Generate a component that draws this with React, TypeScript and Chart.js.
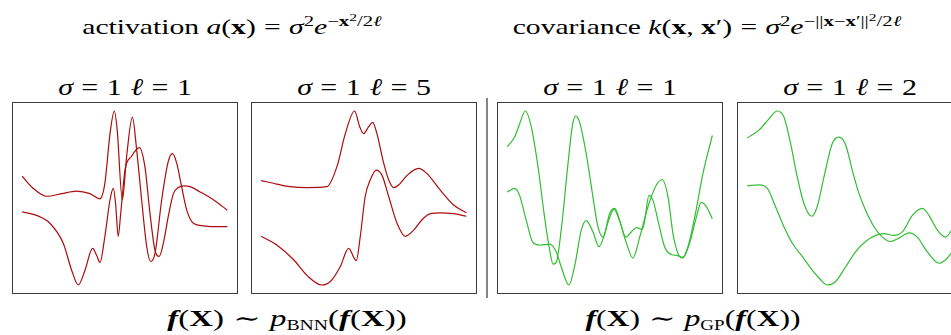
import React, { useEffect, useRef } from "react";
import { Chart, registerables } from "chart.js";

Chart.register(...registerables);

// Sampled functions: [x, f(x)] pairs, x in [0, 10], f normalised to about [-1, 1]
const bnnL1A: [number, number][] = [
  [0, 0.25], [0.54, 0.11], [1.19, 0.02], [1.92, 0.05], [2.65, 0.08], [3.3, 0.05], [3.79, -0.01],
  [4.03, 0.17], [4.28, 0.74], [4.49, 1.0], [4.63, 0.78], [4.88, -0.02], [5.09, 0.48], [5.37, 0.93],
  [5.58, 0.55], [5.82, -0.02], [6.07, -0.56], [6.26, -0.73], [6.47, -0.64], [6.8, -0.02],
  [7.12, 0.42], [7.33, 0.51], [7.53, 0.4], [7.77, 0.13], [8.02, -0.14], [8.34, -0.29],
  [8.83, -0.32], [9.48, -0.33], [10, -0.33],
];
const bnnL1B: [number, number][] = [
  [0, -0.16], [0.7, -0.2], [1.35, -0.29], [2.0, -0.52], [2.41, -0.83], [2.73, -1.0], [3.06, -0.83],
  [3.43, -0.58], [3.63, -0.66], [3.79, -0.74], [4.03, -0.44], [4.28, -0.02], [4.44, 0.11],
  [4.55, -0.06], [4.68, -0.44], [4.8, -0.18], [5.01, 0.32], [5.33, 0.48], [5.71, 0.58],
  [5.98, 0.36], [6.23, -0.18], [6.47, -0.6], [6.68, -0.67], [6.88, -0.52], [7.12, -0.21],
  [7.37, 0.05], [7.61, 0.12], [7.85, 0.14], [8.18, 0.13], [8.67, 0.07], [9.32, -0.02], [10, -0.14],
];
const bnnL5A: [number, number][] = [
  [0, 0.2], [0.76, 0.16], [1.41, 0.13], [2.23, 0.12], [3.2, 0.13], [3.69, 0.36], [4.1, 0.74],
  [4.55, 1.0], [4.8, 0.82], [4.99, 0.74], [5.24, 0.82], [5.43, 0.87], [5.64, 0.74], [5.97, 0.4],
  [6.21, 0.21], [6.46, 0.12], [6.7, 0.15], [7.11, 0.26], [7.67, 0.34], [8.08, 0.28], [8.73, 0.09],
  [9.38, -0.08], [10, -0.17],
];
const bnnL5B: [number, number][] = [
  [0, -0.44], [0.76, -0.54], [1.58, -0.71], [2.23, -0.89], [2.96, -1.0], [3.37, -0.96],
  [3.85, -0.79], [4.26, -0.58], [4.63, -0.72], [4.83, -0.44], [5.07, 0.02], [5.32, 0.21],
  [5.61, 0.32], [5.89, 0.26], [6.21, 0.02], [6.62, -0.29], [7.02, -0.44], [7.43, -0.37],
  [7.84, -0.25], [8.24, -0.18], [8.73, -0.17], [9.38, -0.18], [10, -0.21],
];
const gpL1A: [number, number][] = [
  [0, 0.59], [0.36, 0.7], [0.6, 0.85], [0.88, 1.0], [1.17, 0.82], [1.5, 0.36], [1.82, -0.22],
  [2.07, -0.6], [2.23, -0.76], [2.39, -0.74], [2.63, -0.37], [2.96, 0.39], [3.17, 0.82],
  [3.33, 0.94], [3.53, 0.87], [3.85, 0.51], [4.18, 0.01], [4.42, -0.33], [4.67, -0.45],
  [4.91, -0.28], [5.2, -0.13], [5.48, -0.26], [5.77, -0.45], [6.05, -0.39], [6.29, -0.34],
  [6.59, -0.36], [6.7, -0.26], [6.91, 0.03], [7.11, -0.03], [7.35, -0.26], [7.67, -0.56],
  [8.0, -0.65], [8.24, -0.66], [8.57, -0.68], [8.89, -0.52], [9.22, -0.22], [9.46, -0.05],
  [9.71, -0.1], [10, -0.24],
];
const gpL1B: [number, number][] = [
  [0, 0.07], [0.36, 0.11], [0.6, 0.03], [0.93, -0.26], [1.25, -0.51], [1.58, -0.54], [2.07, -0.53],
  [2.39, -0.62], [2.63, -0.79], [3.01, -1.0], [3.28, -0.79], [3.61, -0.37], [3.85, -0.26],
  [4.18, -0.39], [4.47, -0.56], [4.75, -0.41], [4.99, -0.18], [5.24, -0.12], [5.48, -0.26],
  [5.8, -0.51], [6.13, -0.69], [6.46, -0.45], [6.86, -0.1], [7.27, 0.15], [7.56, 0.21],
  [7.84, 0.01], [8.08, -0.41], [8.33, -0.64], [8.54, -0.69], [8.81, -0.56], [9.14, -0.22],
  [9.54, 0.28], [10, 0.72],
];
const gpL2A: [number, number][] = [
  [0, 0.69], [0.57, 0.78], [1.06, 0.91], [1.46, 1.0], [1.79, 0.93], [2.11, 0.63], [2.44, 0.24],
  [2.76, -0.06], [3.14, -0.21], [3.41, -0.1], [3.74, 0.24], [4.15, 0.63], [4.47, 0.7],
  [4.8, 0.61], [5.12, 0.32], [5.45, 0.05], [5.77, -0.14], [6.18, -0.33], [6.59, -0.45],
  [6.99, -0.5], [7.4, -0.46], [7.89, -0.4], [8.29, -0.45], [8.78, -0.62], [9.35, -0.75],
  [9.67, -0.71], [10, -0.62],
];
const gpL2B: [number, number][] = [
  [0, 0.14], [0.57, 0.15], [0.98, 0.11], [1.38, -0.1], [1.79, -0.33], [2.2, -0.52], [2.68, -0.67],
  [3.17, -0.83], [3.58, -0.94], [3.9, -1.0], [4.31, -0.96], [4.8, -0.79], [5.28, -0.62],
  [5.77, -0.5], [6.26, -0.43], [6.67, -0.41], [7.15, -0.43], [7.56, -0.39], [8.05, -0.2],
  [8.54, -0.12], [8.86, -0.2], [9.27, -0.37], [9.67, -0.45], [10, -0.36],
];

const sigmaValues = ["1", "1", "1", "1"];
const ellValues = ["1", "5", "1", "2"];

const BNN_COLOR = "#ac0c0c";
const GP_COLOR = "#33bd33";
const SERIF = '"Liberation Serif", "DejaVu Serif", serif';

type Series = [number, number][];

function Panel({ left, series, color }: { left: number; series: Series[]; color: string }) {
  const ref = useRef<HTMLCanvasElement | null>(null);
  useEffect(() => {
    if (!ref.current) return;
    const chart = new Chart(ref.current, {
      type: "line",
      data: {
        datasets: series.map((s) => ({
          data: s.map(([x, y]) => ({ x, y })),
          borderColor: color,
          borderWidth: 1.2,
          pointRadius: 0,
          fill: false,
          cubicInterpolationMode: "monotone" as const,
        })),
      },
      options: {
        animation: false,
        responsive: false,
        devicePixelRatio: 1,
        layout: { padding: 0 },
        plugins: { legend: { display: false }, tooltip: { enabled: false }, title: { display: false } },
        scales: {
          x: { type: "linear", min: -0.45, max: 10.47, display: false },
          y: { type: "linear", min: -1.092, max: 1.092, display: false },
        },
      },
    });
    return () => chart.destroy();
  }, []);
  return (
    <div
      style={{
        position: "absolute",
        left,
        top: 102,
        width: 226,
        height: 192,
        boxSizing: "border-box",
        border: "1px solid #3a3a3a",
        background: "#fff",
      }}
    >
      <canvas ref={ref} width={224} height={190} style={{ display: "block", width: 224, height: 190 }} />
    </div>
  );
}

function Text({
  center,
  top,
  size,
  sx,
  children,
}: {
  center: number;
  top: number;
  size: number;
  sx: number;
  children: React.ReactNode;
}) {
  return (
    <div
      style={{
        position: "absolute",
        left: center - 300,
        width: 600,
        top,
        textAlign: "center",
        fontFamily: SERIF,
        fontSize: size,
        lineHeight: 1,
        whiteSpace: "nowrap",
        color: "#000",
        transform: `scaleX(${sx})`,
        transformOrigin: "center top",
      }}
    >
      {children}
    </div>
  );
}

const Sup = ({ children, scale = 0.7, rise = 0.55 }: { children: React.ReactNode; scale?: number; rise?: number }) => (
  <span style={{ fontSize: `${scale}em`, position: "relative", top: `-${rise}em` }}>{children}</span>
);
const Sub = ({ children }: { children: React.ReactNode }) => (
  <span style={{ fontSize: "0.6em", position: "relative", top: "0.3em" }}>{children}</span>
);
const Rel = ({ children, m = 0.28 }: { children: React.ReactNode; m?: number }) => (
  <span style={{ margin: `0 ${m}em` }}>{children}</span>
);

const panelLefts = [12, 251, 497, 737];

export default function App() {
  return (
    <div
      style={{
        position: "fixed",
        left: 0,
        top: 0,
        width: 951,
        height: 335,
        overflow: "hidden",
        background: "#fff",
      }}
    >
      <Text center={232} top={17} size={21} sx={1.41}>
        activation <i>a</i>(<b>x</b>)<Rel>=</Rel><i>σ</i>
        <Sup>2</Sup>
        <i>e</i>
        <Sup>
          −<b>x</b>
          <Sup scale={0.75} rise={0.45}>2</Sup>/2<i>ℓ</i>
        </Sup>
      </Text>
      <Text center={707} top={17} size={21} sx={1.41}>
        covariance <i>k</i>(<b>x</b>, <b>x</b>′)<Rel>=</Rel><i>σ</i>
        <Sup>2</Sup>
        <i>e</i>
        <Sup>
          −||<b>x</b>−<b>x</b>′||
          <Sup scale={0.75} rise={0.45}>2</Sup>/2<i>ℓ</i>
        </Sup>
      </Text>

      {panelLefts.map((l, i) => (
        <Text key={i} center={l + 113} top={75} size={24} sx={1.25}>
          <i>σ</i>
          <Rel>=</Rel>
          {sigmaValues[i]}
          <span style={{ marginLeft: "0.3em" }} />
          <i>ℓ</i>
          <Rel>=</Rel>
          {ellValues[i]}
        </Text>
      ))}

      <Panel left={panelLefts[0]} series={[bnnL1A, bnnL1B]} color={BNN_COLOR} />
      <Panel left={panelLefts[1]} series={[bnnL5A, bnnL5B]} color={BNN_COLOR} />
      <Panel left={panelLefts[2]} series={[gpL1A, gpL1B]} color={GP_COLOR} />
      <Panel left={panelLefts[3]} series={[gpL2A, gpL2B]} color={GP_COLOR} />

      <div style={{ position: "absolute", left: 486, top: 98, width: 2, height: 200, background: "#858585" }} />

      <Text center={287} top={307} size={23} sx={1.43}>
        <b><i>f</i></b>(<b>X</b>)<Rel>∼</Rel><i>p</i>
        <Sub>BNN</Sub>(<b><i>f</i></b>(<b>X</b>))
      </Text>
      <Text center={693} top={307} size={23} sx={1.38}>
        <b><i>f</i></b>(<b>X</b>)<Rel>∼</Rel><i>p</i>
        <Sub>GP</Sub>(<b><i>f</i></b>(<b>X</b>))
      </Text>
    </div>
  );
}
